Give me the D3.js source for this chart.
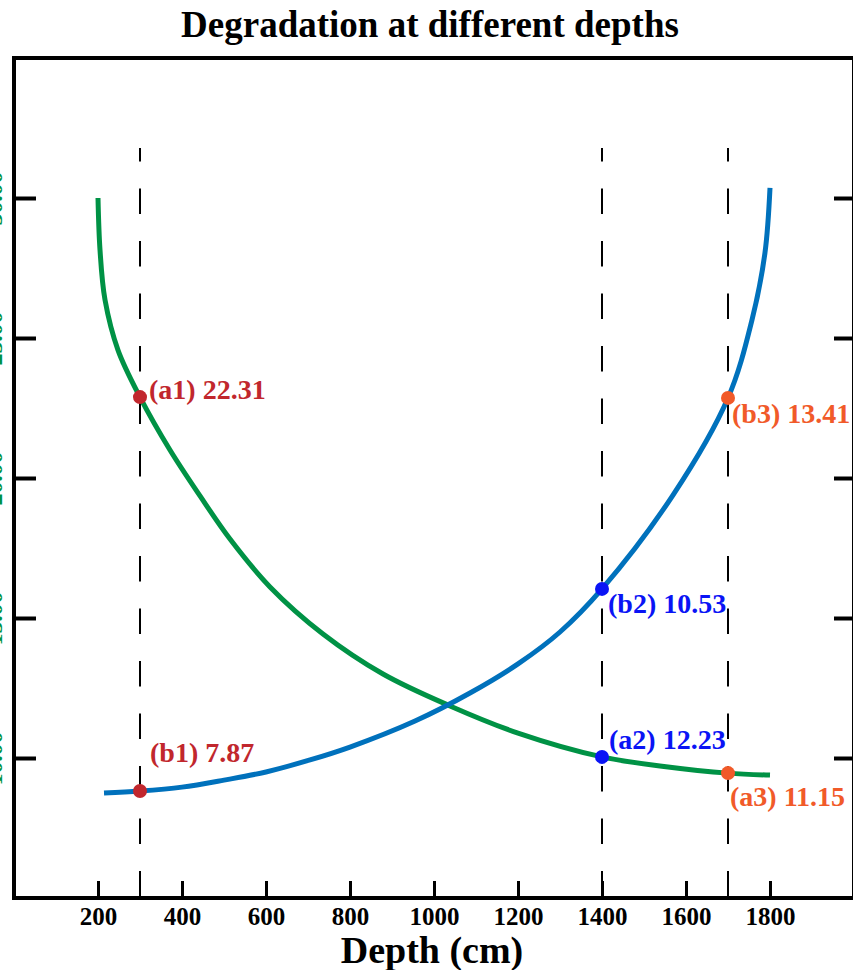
<!DOCTYPE html>
<html>
    <head>
        <style>
            body { margin: 0; background: #fff; }
            svg { display: block; }
            text { font-family: "Liberation Serif", "Times New Roman", serif; font-weight: bold; }
        </style>
    </head>
    <body>
        <div id="chart"></div>

        <script src="https://cdnjs.cloudflare.com/ajax/libs/d3/7.8.5/d3.min.js"></script>

    <script>
        // depth ticks along the bottom
        var depthTicks = [200, 400, 600, 800, 1000, 1200, 1400, 1600, 1800];
        // left axis ticks (labels fall off the left edge of the image)
        var yTicks = [10, 15, 20, 25, 30];

        // curve (a) - green
        var greenDepth = [200, 204.8, 216.7, 247.6, 300, 371.4, 442.9, 514.3, 609.5, 735.7, 878.6, 1038.1, 1200, 1400, 1547.6, 1700, 1800];
        var greenValue = [30.0, 28.14, 26.36, 24.57, 22.89, 21.0, 19.36, 17.82, 16.11, 14.43, 13.0, 11.86, 10.89, 10.04, 9.70, 9.46, 9.39];

        // curve (b) - blue
        var blueDepth = [214.3, 300, 400, 500, 600, 704.8, 800, 954.8, 1085.7, 1200, 1300, 1400, 1569, 1700, 1757, 1788, 1800];
        var blueValue = [8.75, 8.82, 8.96, 9.21, 9.5, 9.93, 10.39, 11.32, 12.32, 13.36, 14.5, 16.04, 19.39, 22.86, 25.64, 28.04, 30.36];

        // marked depths (dashed lines)
        var markDepths = [300, 1400, 1700];

        // labelled points
        var pointIds    = ["a1", "b1", "a2", "b2", "a3", "b3"];
        var pointDepth  = [300, 300, 1400, 1400, 1700, 1700];
        var pointCurve  = ["a", "b", "a", "b", "a", "b"];
        var pointValues = ["22.31", "7.87", "12.23", "10.53", "11.15", "13.41"];

        (function() {
            var width = 853,
                height = 970;

            var colors = { 300: "#c1272d", 1400: "#0a14f5", 1700: "#f15a29" };
            var labelOffset = {
                a1: [9, 2], b1: [10, -29], a2: [7, -8],
                b2: [6, 24], a3: [2, 33], b3: [4, 25]
            };

            var svg = d3.select("#chart")
                .append("svg")
                .attr("width", width)
                .attr("height", height);

            var x = d3.scaleLinear().domain([0, 2000]).range([14, 854]);
            var y = d3.scaleLinear().domain([5, 35]).range([898, 58]);

            svg.append("text")
                .attr("x", 430)
                .attr("y", 37)
                .attr("text-anchor", "middle")
                .attr("font-size", 37)
                .text("Degradation at different depths");

            // dashed verticals
            svg.selectAll(".mark")
                .data(markDepths)
                .enter().append("line")
                .attr("x1", function(d) { return x(d) })
                .attr("x2", function(d) { return x(d) })
                .attr("y1", 148)
                .attr("y2", 898)
                .attr("stroke", "#000")
                .attr("stroke-width", 2)
                .attr("stroke-dasharray", "25.5,27")
                .attr("stroke-dashoffset", 12);

            var line = d3.line()
                .x(function(d) { return x(d[0]) })
                .y(function(d) { return y(d[1]) })
                .curve(d3.curveCatmullRom.alpha(0.5));

            var green = d3.zip(greenDepth, greenValue);
            var blue = d3.zip(blueDepth, blueValue);

            svg.append("path")
                .attr("d", line(green))
                .attr("fill", "none")
                .attr("stroke", "#009245")
                .attr("stroke-width", 5);

            svg.append("path")
                .attr("d", line(blue))
                .attr("fill", "none")
                .attr("stroke", "#0071bc")
                .attr("stroke-width", 5);

            // axes
            var bottom = svg.append("g")
                .attr("transform", "translate(0,898)")
                .call(d3.axisBottom(x).tickValues(depthTicks).tickSize(-17).tickPadding(9).tickFormat(d3.format("d")));
            bottom.selectAll(".tick line").attr("stroke-width", 3);
            bottom.selectAll(".tick text")
                .attr("font-size", 25)
                .attr("font-family", "Liberation Serif")
                .attr("font-weight", "bold")
                .attr("fill", "#000");
            bottom.select(".domain").remove();

            var left = svg.append("g")
                .attr("transform", "translate(14,0)")
                .call(d3.axisLeft(y).tickValues(yTicks).tickSize(-22).tickFormat(""));
            left.selectAll(".tick line").attr("stroke-width", 4);
            left.selectAll(".tick text").remove();
            left.select(".domain").remove();
            left.selectAll(".tick").append("text")
                .attr("transform", "translate(-12,0) rotate(-90)")
                .attr("text-anchor", "middle")
                .attr("font-size", 24)
                .attr("font-family", "Liberation Serif")
                .attr("font-weight", "bold")
                .attr("fill", "#009245")
                .text(function(d) { return d3.format(".2f")(d) });

            var right = svg.append("g")
                .attr("transform", "translate(852,0)")
                .call(d3.axisRight(y).tickValues(yTicks).tickSize(-18).tickFormat(""));
            right.selectAll(".tick line").attr("stroke-width", 4);
            right.select(".domain").remove();

            // frame
            svg.append("rect")
                .attr("x", x(0))
                .attr("y", y(35))
                .attr("width", x(2000) - x(0))
                .attr("height", y(5) - y(35))
                .attr("fill", "none")
                .attr("stroke", "#000")
                .attr("stroke-width", 4);

            svg.append("text")
                .attr("x", 432)
                .attr("y", 963)
                .attr("text-anchor", "middle")
                .attr("font-size", 38)
                .text("Depth (cm)");

            // points
            var points = pointIds.map(function(id, i) {
                var dep = pointDepth[i];
                var curve = pointCurve[i] == "a" ? green : blue;
                var v = curve.find(function(p) { return p[0] == dep })[1];
                return { id: id, depth: dep, v: v, label: "(" + id + ") " + pointValues[i] };
            });

            var node = svg.selectAll(".pt")
                .data(points)
                .enter().append("g")
                .attr("class", "pt");

            node.append("circle")
                .attr("cx", function(d) { return x(d.depth) })
                .attr("cy", function(d) { return y(d.v) })
                .attr("r", 7)
                .attr("fill", function(d) { return colors[d.depth] });

            node.append("text")
                .attr("x", function(d) { return x(d.depth) + labelOffset[d.id][0] })
                .attr("y", function(d) { return y(d.v) + labelOffset[d.id][1] })
                .attr("font-size", 28)
                .attr("fill", function(d) { return colors[d.depth] })
                .text(function(d) { return d.label });
        })();
    </script>
    </body>
</html>
